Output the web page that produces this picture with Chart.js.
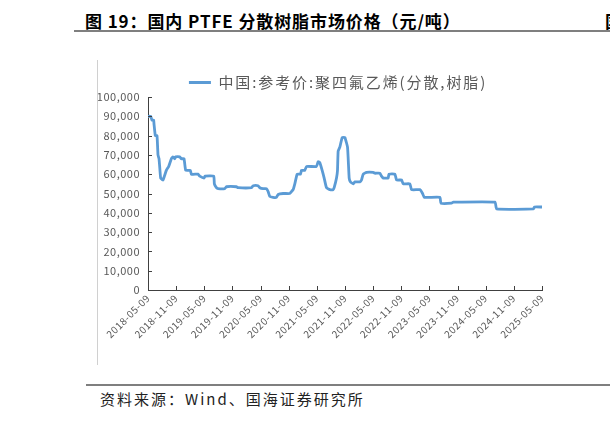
<!DOCTYPE html>
<html>
<head>
<meta charset="utf-8">
<script src="https://cdn.jsdelivr.net/npm/chart.js@4/dist/chart.umd.min.js"></script>
<style>
  html, body { margin: 0; padding: 0; background: #fff; }
  body { width: 610px; height: 421px; position: relative; overflow: hidden; font-family: "Noto Sans CJK SC", sans-serif; }
  #title { position: absolute; left: 85px; top: 8px; font-size: 17px; font-weight: bold; color: #000; white-space: nowrap; letter-spacing: 0.9px; }
  #cut { position: absolute; left: 605px; top: 8px; font-size: 17px; font-weight: bold; color: #000; white-space: nowrap; }
  .rule { position: absolute; height: 2px; background: #7f7f7f; }
  #frame { position: absolute; left: 97px; top: 60px; width: 1px; height: 305px; background: #d0d0d0; }
  #source { position: absolute; left: 100px; top: 388px; font-size: 15px; color: #222; white-space: nowrap; letter-spacing: 2px; }
  #wrap { position: absolute; left: 0; top: 0; width: 610px; height: 421px; }
</style>
</head>
<body>
<div id="title">图 19：国内 PTFE 分散树脂市场价格（元/吨）</div>
<div id="cut">国</div>
<div class="rule" style="left:74px; top:30px; width:536px;"></div>
<div id="frame"></div>
<div class="rule" style="left:86px; top:384px; width:524px;"></div>
<div id="source">资料来源：Wind、国海证券研究所</div>
<div id="wrap"><canvas id="priceChart" width="610" height="421"></canvas></div>
<script>
// months since 2018-05-09
const months = [0, 0.57, 0.85, 1.21, 1.28, 1.56, 1.92, 2.13, 2.35, 2.49, 2.70, 3.20, 3.91, 4.41, 4.98, 5.33, 5.69, 5.90, 6.76, 7.11,
  7.68, 8.04, 9.03, 9.25, 10.67, 11.03, 11.95, 12.16, 14.01, 14.15, 14.58, 14.94, 16.36, 16.72, 18.85, 19.2, 22.05, 22.41, 23.47, 23.83,
  24.54, 25.25, 25.61, 25.96, 26.67, 27.39, 27.74, 28.81, 30.23, 30.59, 30.94, 31.30, 31.80, 32.51, 32.72, 33.43, 33.79, 35.92, 36.28, 36.63,
  37.13, 37.56, 38.05, 38.77, 39.48, 39.69, 40.19, 40.40, 40.54, 40.90, 41.40, 41.97, 42.54, 42.89, 43.18, 43.74, 44.10, 45.17, 45.52, 45.88,
  46.59, 48.01, 48.37, 49.44, 49.79, 50.15, 51.21, 51.36, 52.64, 52.99, 54.06, 54.41, 55.84, 56.19, 57.97, 58.54, 58.90, 62.24, 62.45, 64.73,
  65.08, 73.98, 74.33, 82.15, 82.37, 84.0];
const prices = [90000, 90000, 88000, 88000, 86000, 80000, 80000, 70000, 68000, 64000, 58000, 57000, 62000, 64000, 68000, 69000, 68000, 69000, 69000, 68000,
  68000, 62000, 62000, 60000, 60000, 59000, 58000, 59000, 59000, 55000, 53000, 52500, 52500, 53500, 53500, 53000, 53000, 54000, 54000, 53000,
  52500, 52500, 51000, 48500, 48000, 48000, 49500, 50000, 50000, 51000, 52000, 55000, 60000, 60000, 62000, 62000, 64000, 64000, 66500, 66000,
  62000, 58000, 53000, 52000, 52000, 53000, 58000, 62000, 72000, 74000, 79000, 79000, 74000, 58000, 56000, 55000, 56000, 56000, 57000, 60000,
  61000, 61000, 60500, 60500, 59000, 58000, 58000, 60000, 60000, 57000, 57000, 55000, 55000, 52000, 52000, 50000, 48000, 48000, 45000, 45000,
  45500, 45500, 42000, 42000, 43000, 43000];
const tickLabels = ['2018-05-09', '2018-11-09', '2019-05-09', '2019-11-09', '2020-05-09', '2020-11-09', '2021-05-09', '2021-11-09',
  '2022-05-09', '2022-11-09', '2023-05-09', '2023-11-09', '2024-05-09', '2024-11-09', '2025-05-09'];
const seriesName = '中国:参考价:聚四氟乙烯(分散,树脂)';

const points = months.map(function(m, i) { return { x: m, y: prices[i] }; });

// legend is drawn before the datasets (wide spacing), tick labels after them (ticks.z: 1, narrow spacing)
const spacing = {
  id: 'spacing',
  beforeDraw: function(chart) { chart.ctx.letterSpacing = '1.9px'; },
  beforeDatasetsDraw: function(chart) { chart.ctx.letterSpacing = '0.5px'; },
  afterLayout: function(chart) {
    chart.legend.top += 3;
    chart.legend.bottom += 3;
  }
};

// inside tick marks on both axes
const innerTicks = {
  id: 'innerTicks',
  afterDraw: function(chart) {
    const c = chart.ctx, xs = chart.scales.x, ys = chart.scales.y;
    c.save();
    c.strokeStyle = '#404040';
    c.lineWidth = 1;
    c.beginPath();
    ys.ticks.forEach(function(t) {
      const py = Math.round(ys.getPixelForValue(t.value)) + 0.5;
      c.moveTo(xs.left, py); c.lineTo(xs.left + 4, py);
    });
    xs.ticks.forEach(function(t) {
      const px = Math.round(xs.getPixelForValue(t.value)) + 0.5;
      c.moveTo(px, ys.bottom); c.lineTo(px, ys.bottom - 4);
    });
    c.stroke();
    c.restore();
  }
};

const ctx = document.getElementById('priceChart').getContext('2d');
new Chart(ctx, {
  type: 'line',
  data: {
    datasets: [{
      label: seriesName,
      data: points,
      borderColor: '#5b9bd5',
      backgroundColor: '#5b9bd5',
      borderWidth: 2.8,
      pointRadius: 0,
      tension: 0.12,
      fill: false
    }]
  },
  options: {
    responsive: false,
    animation: false,
    devicePixelRatio: 1,
    layout: { padding: { left: 98, right: 68, top: 71, bottom: 61 } },
    plugins: {
      legend: {
        display: true,
        labels: {
          boxWidth: 22,
          boxHeight: 0,
          padding: 1,
          color: '#595959',
          font: { family: 'Noto Sans CJK SC', size: 15 }
        }
      },
      tooltip: { enabled: false }
    },
    scales: {
      x: {
        type: 'linear',
        min: 0,
        max: 84,
        afterFit: function(s) { s.height = 70; },
        afterBuildTicks: function(s) {
          s.ticks = tickLabels.map(function(l, i) { return { value: i * 6 }; });
        },
        ticks: {
          z: 1,
          autoSkip: false,
          minRotation: 45,
          maxRotation: 45,
          padding: 2,
          color: '#595959',
          font: { family: 'Noto Sans CJK SC', size: 10 },
          callback: function(v) { return tickLabels[Math.round(v / 6)]; }
        },
        grid: { display: false, drawTicks: false },
        border: { display: true, color: '#404040', width: 1 }
      },
      y: {
        min: 0,
        max: 100000,
        afterFit: function(s) { s.width = 50; },
        ticks: {
          z: 1,
          stepSize: 10000,
          padding: 8,
          color: '#595959',
          font: { family: 'Noto Sans CJK SC', size: 11 },
          callback: function(v) { return v.toLocaleString('en-US'); }
        },
        grid: { display: false, drawTicks: false },
        border: { display: true, color: '#404040', width: 1 }
      }
    }
  },
  plugins: [spacing, innerTicks]
});
</script>
</body>
</html>
